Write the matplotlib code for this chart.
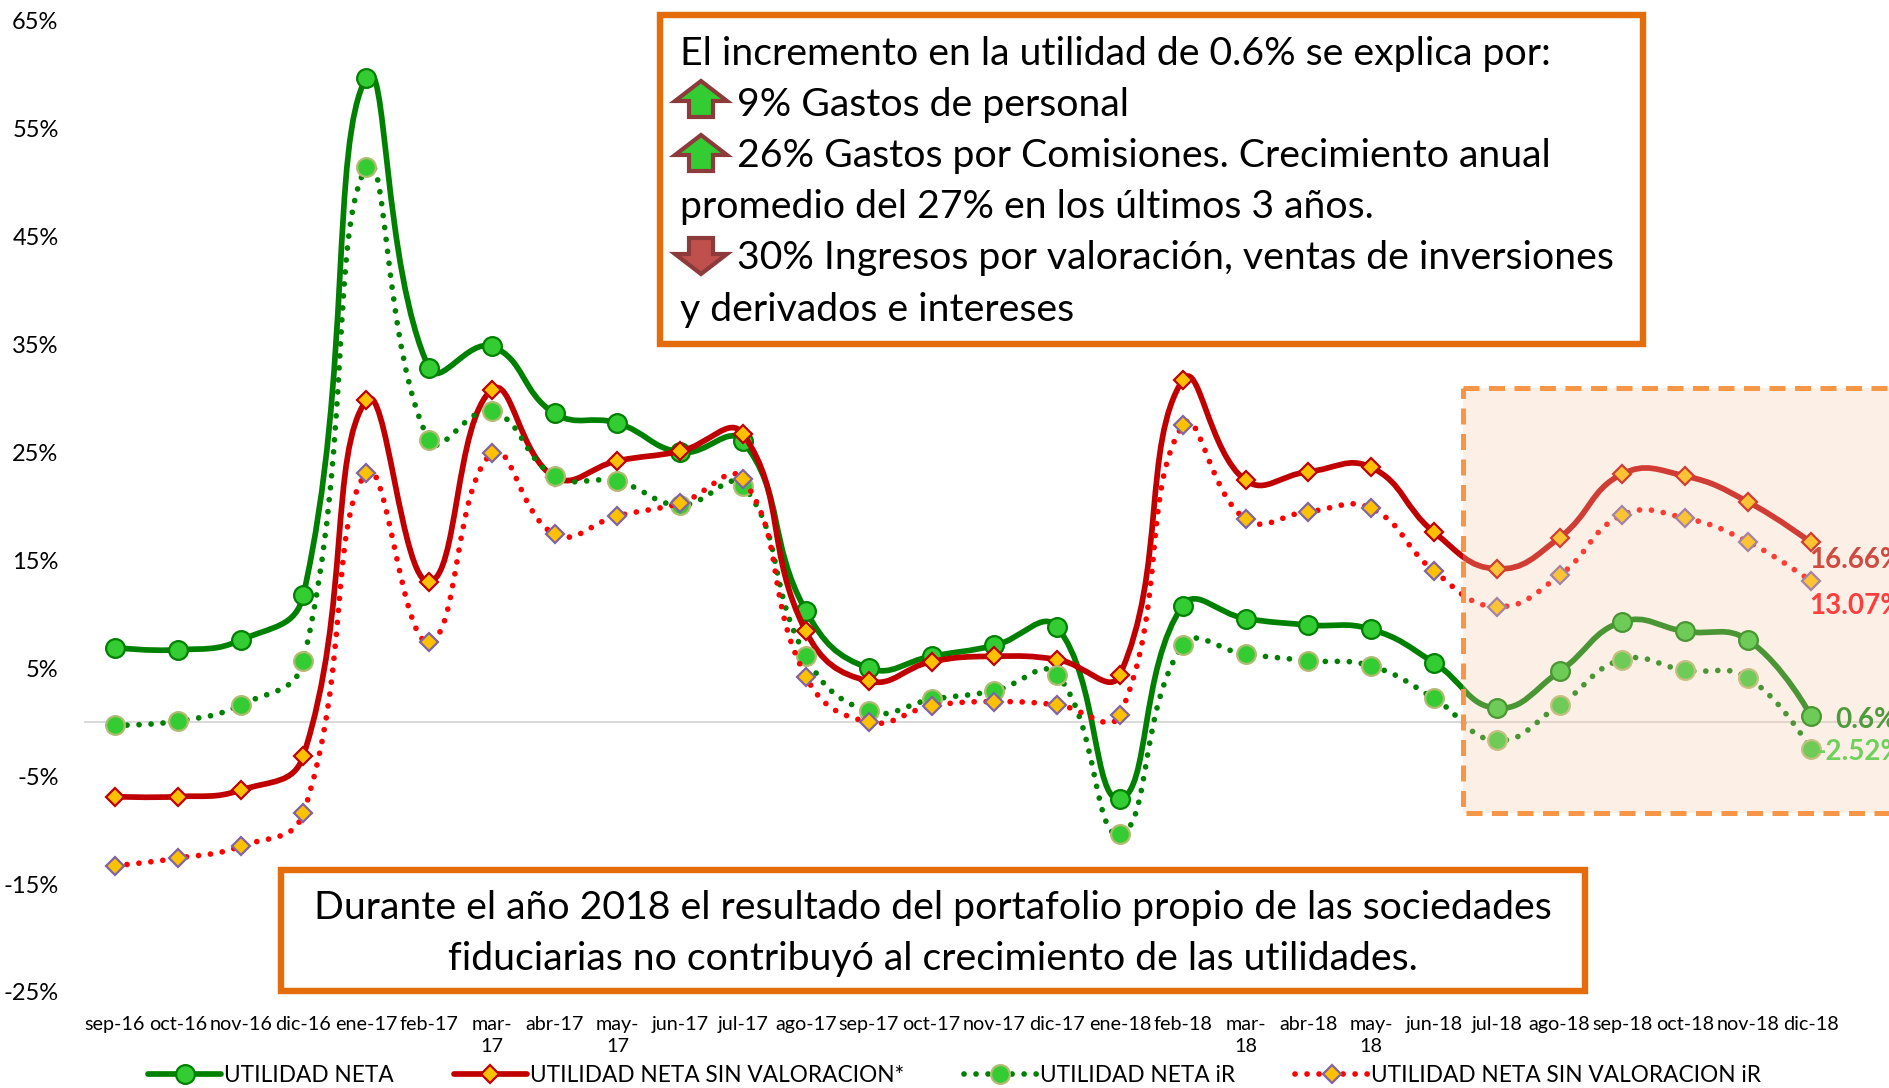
import numpy as np
import matplotlib
matplotlib.use('Agg')
import matplotlib.pyplot as plt
from matplotlib.path import Path
from matplotlib.patches import PathPatch, Rectangle, Polygon
from matplotlib.lines import Line2D

plt.rcParams['font.family'] = ['Lato', 'DejaVu Sans']

# data
months = ['sep-16', 'oct-16', 'nov-16', 'dic-16', 'ene-17', 'feb-17', 'mar-\n17', 'abr-17', 'may-\n17', 'jun-17',
          'jul-17', 'ago-17', 'sep-17', 'oct-17', 'nov-17', 'dic-17', 'ene-18', 'feb-18', 'mar-\n18', 'abr-18',
          'may-\n18', 'jun-18', 'jul-18', 'ago-18', 'sep-18', 'oct-18', 'nov-18', 'dic-18']
neta = [6.9, 6.7, 7.6, 11.8, 59.7, 32.8, 34.8, 28.6, 27.7, 25.0, 26.0, 10.3, 5.0, 6.1,
        7.1, 8.8, -7.1, 10.8, 9.6, 9.0, 8.6, 5.5, 1.3, 4.7, 9.3, 8.4, 7.6, 0.6]
sin_val = [-6.9, -6.9, -6.3, -3.1, 29.8, 13.0, 30.8, 22.7, 24.2, 25.1, 26.7, 8.4, 3.8, 5.6,
           6.1, 5.8, 4.4, 31.7, 22.4, 23.2, 23.6, 17.6, 14.2, 17.1, 23.0, 22.8, 20.4, 16.66]
neta_ir = [-0.3, 0.1, 1.6, 5.7, 51.4, 26.1, 28.8, 22.8, 22.3, 20.1, 21.9, 6.1, 1.0, 2.1,
           2.9, 4.4, -10.4, 7.1, 6.3, 5.7, 5.2, 2.2, -1.7, 1.6, 5.8, 4.8, 4.1, -2.52]
sin_val_ir = [-13.3, -12.6, -11.5, -8.4, 23.1, 7.4, 24.9, 17.4, 19.1, 20.3, 22.5, 4.2, 0.0, 1.5,
              1.9, 1.6, 0.7, 27.5, 18.8, 19.5, 19.8, 14.0, 10.7, 13.6, 19.2, 18.9, 16.7, 13.07]
y_ticks = [-25, -15, -5, 5, 15, 25, 35, 45, 55, 65]

W, H = 1890, 1088
fig = plt.figure(figsize=(W / 100, H / 100), dpi=100, facecolor='white')

ax = fig.add_axes([83.6 / W, (H - 992) / H, (W - 83.6) / W, (992 - 20.5) / H])
ax.set_xlim(-0.5, 28.26)
ax.set_ylim(-25, 65)
ax.patch.set_visible(False)
for s in ax.spines.values():
    s.set_visible(False)

# overlay in pixel coords for the boxes and text
ov = fig.add_axes([0, 0, 1, 1], zorder=5)
ov.set_xlim(0, W)
ov.set_ylim(H, 0)
ov.axis('off')


def smooth_patch(y, t=0.45, **kw):
    # smoothed line like Excel: tangents scale with the length of each segment on screen
    y = np.asarray(y, dtype=float)
    x = np.arange(len(y), dtype=float)
    p = np.column_stack([x, y])
    scale = np.array([62.8, 10.8])
    seg = np.hypot(*((p[1:] - p[:-1]) * scale).T)
    after = [p[0]]
    before = [p[0]]
    for i in range(1, len(p) - 1):
        d0, d1 = seg[i - 1], seg[i]
        tang = p[i + 1] - p[i - 1]
        before.append(p[i] - tang * t * d0 / (d0 + d1))
        after.append(p[i] + tang * t * d1 / (d0 + d1))
    before.append(p[-1])
    verts = [p[0]]
    codes = [Path.MOVETO]
    for i in range(len(p) - 1):
        verts += [after[i], before[i + 1], p[i + 1]]
        codes += [Path.CURVE4] * 3
    return PathPatch(Path(verts, codes), fill=False, **kw)


lw = 4.1
dots = (0, (0.01, 2.1))
green_line = dict(color='#008000', lw=lw)
red_line = dict(color='#C00000', lw=lw)
green_dots = dict(color='#008000', lw=lw, ls=dots)
red_dots = dict(color='#FF0000', lw=lw, ls=dots)
m_neta = dict(marker='o', ms=13.5, mfc='#33CC33', mec='#008000', mew=1.6)
m_sin = dict(marker='D', ms=9.6, mfc='#FFC000', mec='#C00000', mew=1.6)
m_neta_ir = dict(marker='o', ms=13.5, mfc='#33CC33', mec='#B0BC70', mew=1.6)
m_sin_ir = dict(marker='D', ms=9.6, mfc='#FFC000', mec='#8064A2', mew=1.6)

x = np.arange(len(months))
series = [(neta, green_line, m_neta), (sin_val, red_line, m_sin),
          (neta_ir, green_dots, m_neta_ir), (sin_val_ir, red_dots, m_sin_ir)]
z = 3
for vals, style, mk in series:
    ax.add_patch(smooth_patch(vals, capstyle='round', joinstyle='round', zorder=z, **style))
    ax.plot(x, vals, ls='none', zorder=z + 0.5, **mk)
    z += 1

ax.axhline(0, color='#D9D9D9', lw=1.4, zorder=1)

ax.set_xticks(x, months)
ax.set_yticks(y_ticks, [f'{v}%' for v in y_ticks])
ax.tick_params(axis='x', length=0, pad=17, labelsize=14.2)
ax.tick_params(axis='y', length=0, pad=18, labelsize=17)
for t in ax.get_xticklabels():
    t.set_linespacing(1.35)

# shaded 2018 window, sits over the lines
ax.add_patch(Rectangle((1463, 388), 500, 425, transform=ov.transData, fc='#F8CBAD', ec='none',
                       alpha=0.3, zorder=20, clip_on=False))
ax.add_patch(Rectangle((1463, 388), 500, 425, transform=ov.transData, fill=False, ec='#F79646',
                       lw=3.6, ls=(0, (3.2, 1.9)), zorder=21, clip_on=False))

# end labels, offsets in px (up is positive)
end_labels = [(sin_val, '16.66%', '#CF4A40', -2, -18), (sin_val_ir, '13.07%', '#FF3D3D', -2, -25),
              (neta, '0.6%', '#4F9A3C', 24, -4), (neta_ir, '-2.52%', '#70D05C', 5, -3)]
for vals, txt, col, dx, dy in end_labels:
    ax.annotate(txt, (27, vals[-1]), xytext=(dx * 0.72, dy * 0.72), textcoords='offset points',
                color=col, fontsize=20, fontweight='bold', va='center', ha='left',
                zorder=25, annotation_clip=False)

# legend
handles = [
    Line2D([], [], color='#008000', lw=lw, solid_capstyle='round', **m_neta),
    Line2D([], [], color='#C00000', lw=lw, solid_capstyle='round', **m_sin),
    Line2D([], [], color='#008000', lw=lw, ls=dots, dash_capstyle='round', **m_neta_ir),
    Line2D([], [], color='#FF0000', lw=lw, ls=dots, dash_capstyle='round', **m_sin_ir),
]
fs = 16.3
fpx = fs * 100 / 72
ax.legend(handles, ['UTILIDAD NETA', 'UTILIDAD NETA SIN VALORACION*', 'UTILIDAD NETA iR', 'UTILIDAD NETA SIN VALORACION iR'],
          ncol=4, frameon=False, fontsize=fs, loc='center left',
          bbox_to_anchor=(148 / W, (H - 1075) / H), bbox_transform=fig.transFigure,
          handlelength=73 / fpx, handletextpad=3 / fpx, columnspacing=60 / fpx,
          borderpad=0, borderaxespad=0)

# text boxes
orange = '#E46C0A'
ov.add_patch(Rectangle((660, 15), 983, 329, fc='white', ec=orange, lw=4.6, joinstyle='miter'))
ov.add_patch(Rectangle((281, 870), 1304, 121, fc='white', ec=orange, lw=4.6, joinstyle='miter'))

box_lines = [
    (680, 65, 'El incremento en la utilidad de 0.6% se explica por:'),
    (737, 116, '9% Gastos de personal'),
    (737, 167, '26% Gastos por Comisiones. Crecimiento anual'),
    (680, 218, 'promedio del 27% en los últimos 3 años.'),
    (737, 269, '30% Ingresos por valoración, ventas de inversiones'),
    (680, 321, 'y derivados e intereses'),
]
fs_box = 28.25
for tx, ty, txt in box_lines:
    ov.text(tx, ty, txt, fontsize=fs_box, va='baseline', ha='left', color='black')
ov.text(933, 919, 'Durante el año 2018 el resultado del portafolio propio de las sociedades',
        fontsize=fs_box, va='baseline', ha='center', color='black')
ov.text(933, 970, 'fiduciarias no contribuyó al crecimiento de las utilidades.',
        fontsize=fs_box, va='baseline', ha='center', color='black')


def arrow(top, up, fill):
    xs = [675, 689, 713, 727]
    if up:
        pts = [(701, top), (xs[3], top + 20), (xs[2], top + 20), (xs[2], top + 36), (xs[1], top + 36), (xs[1], top + 20), (xs[0], top + 20)]
    else:
        pts = [(xs[1], top), (xs[2], top), (xs[2], top + 16), (xs[3], top + 16), (701, top + 36), (xs[0], top + 16), (xs[1], top + 16)]
    ov.add_patch(Polygon(pts, closed=True, fc=fill, ec='#8C3A3A', lw=3, joinstyle='miter'))


arrow(81, True, '#33CC33')
arrow(135, True, '#33CC33')
arrow(238, False, '#C0504D')

fig.savefig('out.png', dpi=100)
